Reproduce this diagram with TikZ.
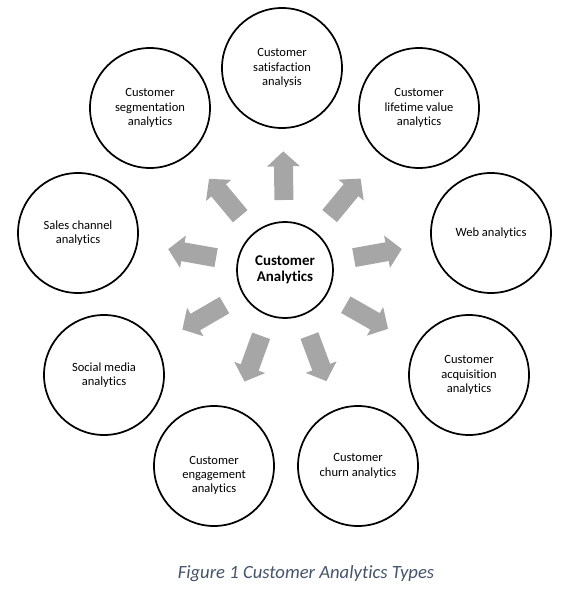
\documentclass[tikz,border=0pt]{standalone}
\usepackage{fontspec}
\setmainfont{Carlito}[Ligatures=NoCommon]
\usetikzlibrary{arrows.meta,calc}
\definecolor{arrowgray}{HTML}{A6A6A6}
\definecolor{captionblue}{HTML}{44546A}
\begin{document}
\begin{tikzpicture} [x=0.75pt,y=0.75pt,font=\fontsize{9.4}{10.7}\selectfont,
		typecircle/.style={draw,circle,line width=1.3pt,minimum size=90pt,inner sep=0pt,align=center},
		bigarrow/.style={draw=arrowgray,line width=14.25pt,-{Triangle[width=24pt,length=11.25pt]}}]
		\useasboundingbox (-285,-322) rectangle (288,270);
		\node [typecircle,minimum size=72pt,font=\fontsize{11.2}{12.3}\selectfont\bfseries] (ca) at (0,0) {Customer\\Analytics};
		\node [typecircle] (sat) at (-3,202) {Customer\\satisfaction\\analysis};
		\node [typecircle] (life) at (134,162) {Customer\\lifetime value\\analytics};
		\node [typecircle] (web) at (206,37) {Web analytics};
		\node [typecircle] (acq) at (184,-105) {Customer\\acquisition\\analytics};
		\node [typecircle] (churn) at (73,-196) {Customer\\churn analytics};
		\node [typecircle,label={[yshift=-7pt,align=center]center:Customer\\engagement\\analytics}] (eng) at (-71,-196) {};
		\node [typecircle] (soc) at (-181,-105) {Social media\\analytics};
		\node [typecircle] (sales) at (-207,37) {Sales channel\\analytics};
		\node [typecircle] (seg) at (-135,162) {Customer\\segmentation\\analytics};
		\foreach \n in {sat,life,web,acq,churn,eng,soc,sales,seg}
			\draw [bigarrow] ($(ca)!52.5pt!(\n)$) -- ($(ca)!89pt!(\n)$);
		\node [font=\fontsize{14}{16}\selectfont\itshape,text=captionblue] (cap) at (21,-304) {Figure 1 Customer Analytics Types};
	\end{tikzpicture}
\end{document}
